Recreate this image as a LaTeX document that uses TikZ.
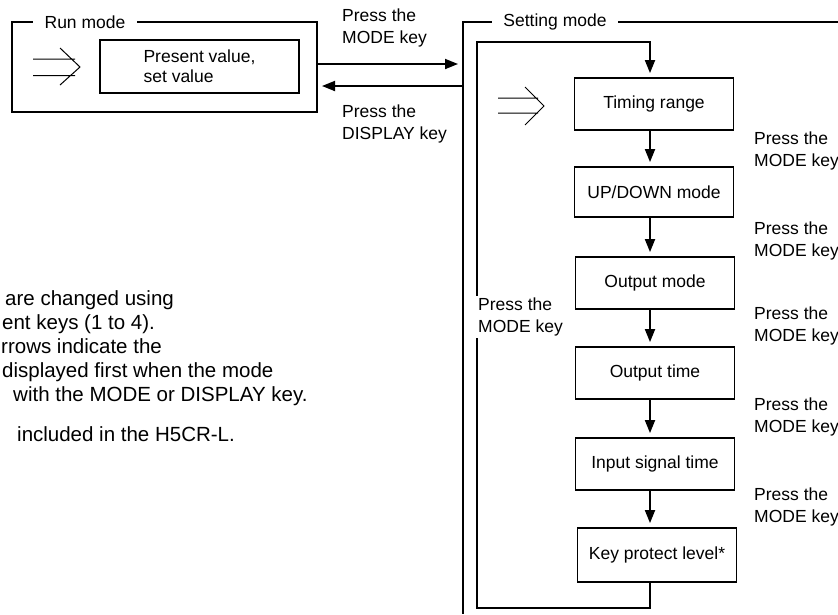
\documentclass[tikz,border=0pt]{standalone}
\usepackage{fontspec}
\setmainfont{Liberation Sans}
\usetikzlibrary{arrows.meta,calc}
\begin{document}
\begin{tikzpicture}[x=1pt,y=-1pt,
  frame/.style={line width=1.8pt},
  box/.style={draw,line width=1.8pt,minimum width=159pt,minimum height=52pt,inner sep=0pt,font=\fontsize{17.5}{20}\selectfont},
  ttl/.style={fill=white,inner ysep=2pt,font=\fontsize{17.5}{20}\selectfont},
  lbl/.style={font=\fontsize{17.5}{22}\selectfont,align=left,inner sep=0pt,anchor=west},
  note/.style={font=\fontsize{20.5}{24}\selectfont,anchor=base west,inner sep=0pt},
  arr/.style={line width=1.8pt,-{Triangle[length=13pt,width=10pt]},shorten >=4pt},
  chev/.style={line width=1pt}]
\useasboundingbox (0,0) rectangle (838,614);

% frames
\draw[frame] (12,22) rectangle (317,112);
\node[ttl,inner xsep=12pt] (runt) at (85,22) {Run mode};
\draw[frame] (838,22) -- (463,22) -- (463,614);
\node[ttl,inner xsep=11pt] (sett) at (555,22) {Setting mode};

% run mode content
\node[box,minimum width=199pt,minimum height=53pt,align=left,xshift=0pt] (pv) at (199.5,66.5) {Present value,\\set value};
\draw[chev] (33,59) -- (75,59) (33,75.5) -- (75,75.5) (60,48) -- (80,67) -- (60,85);

% setting mode boxes
\node[box] (b1) at (654,104) {Timing range};
\node[box,minimum height=50pt] (b2) at (654,192) {UP/DOWN mode};
\node[box] (b3) at (655,283) {Output mode};
\node[box] (b4) at (655,373) {Output time};
\node[box] (b5) at (655,464) {Input signal time};
\node[box,minimum height=54pt] (b6) at (657,555) {Key protect level*};
\draw[chev] (498,98) -- (538,98) (498,113) -- (538,113) (525,87) -- (544,106) -- (525,125);

\coordinate (ax) at (650,0);
\draw[arr] (b1.south -| ax) -- (b2.north -| ax);
\draw[arr] (b2.south -| ax) -- (b3.north -| ax);
\draw[arr] (b3.south -| ax) -- (b4.north -| ax);
\draw[arr] (b4.south -| ax) -- (b5.north -| ax);
\draw[arr] (b5.south -| ax) -- (b6.north -| ax);

% loop back
\coordinate (lbl) at (477,608);
\coordinate (ltl) at (477,42);
\draw[arr] (b6.south -| ax) |- (lbl) -- (ltl) -| (b1.north -| ax);
\node[lbl,fill=white,inner sep=2pt] (lml) at (476,317) {Press the\\MODE key};

% mode change arrows
\coordinate (rm) at (317,64);
\coordinate (sm) at (463,64);
\coordinate (sd) at (463,86);
\coordinate (rd) at (317,86);
\draw[arr,shorten >=5pt] (rm) -- (sm);
\draw[arr,shorten >=5pt] (sd) -- (rd);
\node[lbl] (lm) at (342,28) {Press the\\MODE key};
\node[lbl] (ld) at (342,124) {Press the\\DISPLAY key};

% right labels
\node[lbl] (r1) at (754,151) {Press the\\MODE key};
\node[lbl] (r2) at (754,241) {Press the\\MODE key};
\node[lbl] (r3) at (754,326) {Press the\\MODE key};
\node[lbl] (r4) at (754,417) {Press the\\MODE key};
\node[lbl] (r5) at (754,507) {Press the\\MODE key};

% notes
\node[note] (n1) at (5,305) {are changed using};
\node[note] (n2) at (2,329) {ent keys (1 to 4).};
\node[note] (n3) at (1,353) {rrows indicate the};
\node[note] (n4) at (2,377) {displayed first when the mode};
\node[note] (n5) at (13,401) {with the MODE or DISPLAY key.};
\node[note] (n6) at (17,441) {included in the H5CR-L.};
\end{tikzpicture}
\end{document}
